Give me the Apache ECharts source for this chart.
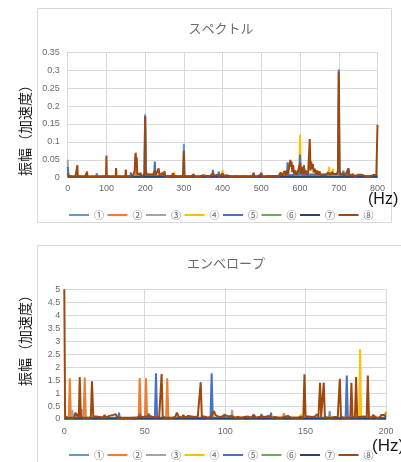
<!DOCTYPE html>
<html>
<head>
<meta charset="utf-8">
<script src="https://cdn.jsdelivr.net/npm/echarts@6/dist/echarts.min.js"></script>
<style>
html,body{margin:0;padding:0;background:#fff;}
#c{width:401px;height:462px;}
</style>
</head>
<body>
<div id="c"></div>
<script>
// ---- Data ----
const seriesNames = ['①','②','③','④','⑤','⑥','⑦','⑧'];
const seriesColors = ['#5B9BD5','#ED7D31','#A5A5A5','#FFC000','#4472C4','#70AD47','#264478','#9E480E'];

const specTitle = 'スペクトル';
const envTitle = 'エンベロープ';
const yName = '振幅（加速度）';
const xUnit = '(Hz)';

const specXTicks = [0,100,200,300,400,500,600,700,800];
const specYTicks = [0,0.05,0.1,0.15,0.2,0.25,0.3,0.35];
const envXTicks = [0,50,100,150,200];
const envYTicks = [0,0.5,1,1.5,2,2.5,3,3.5,4,4.5,5];

// Spectrum series [Hz, amplitude]
const specS1 = [[0,0.02],[2,0.003],[198,0.004],[200,0.177],[202,0.004],[298,0.004],[300,0.095],[302,0.004],[800,0.004]];
const specS2 = [[0,0.01],[3,0.003],[175,0.004],[176,0.07],[177,0.004],[800,0.004]];
const specS3 = [[0,0.05],[2,0.003],[800,0.003]];
const specS4 = [[0,0.004],[273,0.004],[275,0.016],[277,0.004],[398,0.004],[400,0.022],[402,0.004],[557,0.004],[560,0.02],[563,0.004],[598,0.01],[600,0.12],[602,0.01],[673,0.006],[675,0.03],[677,0.006],[683,0.006],[685,0.025],[687,0.006],[800,0.004]];
const specS5 = [[0,0.03],[2,0.003],[74,0.003],[75,0.012],[76,0.003],[162,0.003],[163,0.015],[164,0.003],[187,0.003],[188,0.015],[189,0.003],[198,0.004],[200,0.172],[202,0.004],[223,0.004],[225,0.045],[227,0.004],[373,0.004],[375,0.022],[377,0.004],[388,0.004],[390,0.017],[392,0.004],[478,0.003],[480,0.015],[482,0.003],[498,0.003],[500,0.015],[502,0.003],[566,0.006],[568,0.043],[570,0.006],[598,0.01],[600,0.065],[602,0.01],[608,0.008],[610,0.035],[612,0.008],[698,0.01],[700,0.302],[702,0.01],[710,0.004],[712,0.02],[714,0.004],[723,0.004],[725,0.027],[727,0.004],[800,0.004]];
const specS6 = [[0,0.003],[800,0.003]];
const specS7 = [[0,0.003],[800,0.003]];
const specS8 = [[0,0.012],[2,0.006],[5,0.004],[10,0.003],[15,0.003],[20,0.003],[24,0.004],[25,0.035],[26,0.004],[30,0.003],[38,0.003],[45,0.003],[49,0.003],[50,0.017],[51,0.003],[60,0.002],[70,0.003],[75,0.006],[76,0.002],[85,0.003],[88,0.006],[90,0.002],[99,0.004],[100,0.062],[101,0.004],[110,0.003],[112,0.005],[115,0.002],[124,0.003],[125,0.027],[126,0.003],[135,0.003],[140,0.004],[149,0.003],[150,0.023],[151,0.004],[158,0.003],[163,0.008],[165,0.004],[170,0.01],[173,0.02],[175,0.068],[177,0.03],[178,0.058],[180,0.01],[185,0.006],[188,0.01],[190,0.004],[195,0.006],[199,0.01],[200,0.17],[201,0.02],[203,0.025],[205,0.008],[210,0.006],[213,0.01],[216,0.005],[220,0.008],[225,0.02],[228,0.008],[232,0.006],[235,0.026],[237,0.006],[242,0.008],[245,0.014],[248,0.006],[250,0.018],[252,0.005],[258,0.004],[262,0.006],[268,0.004],[272,0.012],[275,0.004],[282,0.003],[290,0.003],[298,0.005],[300,0.075],[301,0.005],[310,0.003],[318,0.003],[325,0.01],[327,0.003],[335,0.002],[342,0.003],[350,0.007],[352,0.003],[360,0.004],[368,0.005],[375,0.012],[378,0.005],[385,0.008],[390,0.01],[393,0.004],[400,0.012],[403,0.005],[410,0.007],[415,0.003],[425,0.003],[435,0.004],[445,0.003],[455,0.004],[460,0.008],[465,0.003],[475,0.004],[480,0.01],[483,0.003],[490,0.003],[500,0.01],[503,0.003],[512,0.003],[520,0.005],[527,0.003],[535,0.005],[540,0.008],[545,0.005],[550,0.015],[553,0.006],[557,0.012],[560,0.018],[563,0.008],[566,0.02],[569,0.01],[572,0.03],[575,0.05],[577,0.03],[578,0.045],[580,0.015],[582,0.035],[585,0.01],[588,0.02],[591,0.008],[594,0.015],[597,0.01],[600,0.04],[602,0.012],[605,0.03],[607,0.01],[610,0.03],[612,0.012],[615,0.02],[618,0.008],[621,0.015],[623,0.01],[625,0.108],[627,0.02],[629,0.045],[631,0.025],[633,0.038],[635,0.015],[638,0.025],[641,0.01],[644,0.02],[647,0.008],[650,0.018],[653,0.008],[657,0.012],[660,0.006],[664,0.01],[668,0.008],[672,0.015],[675,0.02],[678,0.008],[682,0.015],[685,0.02],[688,0.01],[692,0.015],[695,0.01],[698,0.02],[700,0.295],[702,0.02],[705,0.01],[708,0.006],[712,0.012],[715,0.004],[720,0.006],[725,0.025],[728,0.005],[733,0.006],[737,0.01],[740,0.004],[745,0.005],[750,0.008],[753,0.003],[760,0.008],[763,0.003],[770,0.004],[775,0.005],[780,0.003],[785,0.004],[790,0.008],[793,0.004],[797,0.006],[799,0.01],[800,0.148]];

// Envelope series [Hz, amplitude]
const envS1 = [[0,0.03],[164.5,0.03],[165,0.3],[165.5,0.03],[200,0.03]];
const envS2 = [[0,0.05],[2.8,0.05],[3.4,1.57],[4.1,0.05],[12,0.05],[12.7,1.6],[13.4,0.05],[46.2,0.05],[46.9,1.58],[47.6,0.05],[50.1,0.05],[50.8,1.57],[51.5,0.05],[63.3,0.05],[64,1.57],[64.7,0.05],[136,0.05],[136.5,0.22],[137,0.05],[199,0.05],[200,0.28]];
const envS3 = [[0,0.05],[4.5,0.05],[5,0.35],[5.5,0.05],[10.5,0.05],[11,0.38],[11.5,0.05],[103.8,0.05],[104.3,0.35],[104.8,0.05],[200,0.05]];
const envS4 = [[0,0.03],[146,0.03],[147,0.18],[148,0.03],[183.3,0.03],[183.9,2.7],[184.5,0.03],[200,0.03]];
const envS5 = [[0,0.03],[33.5,0.03],[34,0.25],[34.5,0.03],[46.5,0.03],[47,0.22],[47.5,0.03],[52,0.03],[52.5,0.22],[53,0.03],[56.3,0.03],[57,1.76],[57.7,0.03],[90.9,0.03],[91.6,1.76],[92.3,0.03],[99,0.03],[99.5,0.2],[100,0.03],[117,0.03],[117.5,0.18],[118,0.03],[122,0.03],[122.5,0.2],[123,0.03],[128,0.03],[128.5,0.25],[129,0.03],[174.9,0.03],[175.6,1.68],[176.3,0.03],[200,0.03]];
const envS6 = [[0,0.02],[200,0.02]];
const envS7 = [[0,0.02],[200,0.02]];
const envS8 = [[0,5.0],[0.5,0.1],[1,0.05],[1.5,0.15],[2,0.05],[3,0.1],[4,0.05],[5,0.1],[6,0.05],[7,0.25],[7.5,0.1],[8,0.2],[9,0.05],[9.6,1.62],[10.3,0.08],[11,0.1],[12,0.05],[13,0.1],[14,0.05],[15,0.08],[16.5,0.05],[17.2,1.45],[18,0.1],[19,0.15],[20,0.1],[21,0.15],[22,0.08],[23,0.12],[24,0.05],[25,0.15],[26,0.05],[27,0.1],[28,0.12],[29,0.08],[30,0.15],[31,0.1],[32,0.18],[33,0.05],[34,0.08],[35,0.05],[36,0.05],[37,0.03],[38,0.05],[39,0.04],[40,0.06],[41,0.04],[42,0.03],[43,0.05],[44,0.08],[45,0.05],[46,0.06],[47,0.1],[48,0.05],[49,0.08],[50,0.05],[51,0.1],[52,0.08],[53,0.12],[54,0.05],[55,0.08],[56,0.04],[57,0.06],[58,0.05],[59,0.08],[59.8,0.05],[60.5,1.73],[61.2,0.08],[62,0.1],[63,0.05],[64,0.08],[65,0.05],[66,0.06],[67,0.04],[68,0.05],[69,0.08],[70,0.25],[71,0.1],[72,0.12],[73,0.05],[74,0.15],[75,0.05],[76,0.1],[77,0.12],[78,0.08],[79,0.1],[80,0.05],[81,0.08],[82,0.05],[83,0.1],[84.1,0.08],[84.8,1.42],[85.5,0.08],[86,0.15],[87,0.1],[88,0.12],[89,0.05],[90,0.1],[91,0.08],[92,0.05],[93,0.3],[94,0.15],[95,0.2],[96,0.08],[97,0.12],[98,0.1],[99,0.05],[100,0.15],[101,0.08],[102,0.1],[103,0.05],[104,0.12],[105,0.15],[106,0.05],[107,0.1],[108,0.08],[109,0.12],[110,0.05],[111,0.1],[112,0.08],[113,0.05],[114,0.1],[115,0.08],[116,0.05],[117,0.12],[118,0.15],[119,0.05],[120,0.1],[121,0.08],[122,0.05],[123,0.1],[124,0.15],[125,0.08],[126,0.05],[127,0.12],[128,0.15],[129,0.05],[130,0.1],[131,0.08],[132,0.12],[133,0.05],[134,0.08],[135,0.05],[136,0.1],[137,0.08],[138,0.05],[139,0.12],[140,0.08],[141,0.05],[142,0.1],[143,0.05],[144,0.08],[145,0.05],[146,0.1],[147,0.08],[148,0.1],[148.6,0.05],[149.3,1.72],[150,0.1],[151,0.05],[152,0.1],[153,0.05],[154,0.08],[155,0.05],[156,0.1],[157,0.18],[158,0.08],[158.4,0.05],[159,1.4],[159.7,0.08],[160.6,0.05],[161.3,1.4],[162,0.08],[163,0.1],[164,0.05],[165,0.1],[166,0.05],[167,0.12],[168,0.08],[169,0.05],[170,0.08],[170.6,0.05],[171.3,1.55],[172,0.08],[173,0.1],[174,0.05],[175,0.08],[176,0.05],[177,0.1],[177.8,0.05],[178.5,1.4],[179.2,0.08],[180,0.05],[180.7,0.05],[181.4,1.62],[182.1,0.08],[183,0.05],[184,0.08],[185,0.05],[186,0.1],[187,0.05],[188,0.08],[188.7,1.68],[189.4,0.08],[190,0.1],[191,0.05],[192,0.15],[193,0.08],[194,0.05],[195,0.1],[196,0.05],[197,0.15],[198,0.1],[199,0.15],[200,0.08]];

const specData = [specS1,specS2,specS3,specS4,specS5,specS6,specS7,specS8];
const envData = [envS1,envS2,envS3,envS4,envS5,envS6,envS7,envS8];

// ---- Chart ----
const chart = echarts.init(document.getElementById('c'), null, {renderer:'canvas'});
const labelFont = 'Liberation Sans, Arial, sans-serif';
const jpFont = '"Noto Sans CJK JP", sans-serif';
const gridColor = '#D9D9D9';
const labelColor = '#6B6B6B';

function xAx(gi, ticks){
  return {type:'value', gridIndex:gi, min:ticks[0], max:ticks[ticks.length-1], interval:ticks[1]-ticks[0],
    axisLine:{show:true, lineStyle:{color:gridColor}}, axisTick:{show:false},
    axisLabel:{color:labelColor, fontSize:9, fontFamily:labelFont, margin: gi===0?6:8},
    splitLine:{show:true, lineStyle:{color:gridColor, width:1}}};
}
function yAx(gi, ticks){
  return {type:'value', gridIndex:gi, min:ticks[0], max:ticks[ticks.length-1], interval:ticks[1]-ticks[0],
    axisLine:{show:false}, axisTick:{show:false},
    axisLabel:{color:labelColor, fontSize:9, fontFamily:labelFont, margin: gi===0?8:4},
    splitLine:{show:true, lineStyle:{color:gridColor, width:1}}};
}

const series = [];
specData.forEach((d,i)=>series.push({name:seriesNames[i], type:'line', xAxisIndex:0, yAxisIndex:0, data:d,
  showSymbol:false, symbol:'none', color:seriesColors[i], lineStyle:{width:2, color:seriesColors[i]}, silent:true, z:2+i}));
envData.forEach((d,i)=>series.push({name:seriesNames[i], type:'line', xAxisIndex:1, yAxisIndex:1, data:d,
  showSymbol:false, symbol:'none', color:seriesColors[i], lineStyle:{width:2, color:seriesColors[i]}, silent:true, z:2+i}));

function legend(top){
  return {data:seriesNames, left:64, top:top, icon:'rect', itemWidth:20, itemHeight:2, itemGap:3.5,
    textStyle:{color:'#595959', fontSize:10, fontFamily:jpFont, width:10}, selectedMode:false};
}

const option = {
  animation:false,
  backgroundColor:'#fff',
  color:seriesColors,
  title:[
    {text:specTitle, left:216, top:17, textAlign:'center', textStyle:{fontSize:13, fontWeight:'normal', color:'#6B6B6B', fontFamily:jpFont}},
    {text:envTitle, left:221, top:252, textAlign:'center', textStyle:{fontSize:13, fontWeight:'normal', color:'#6B6B6B', fontFamily:jpFont}}
  ],
  grid:[
    {left:67.7, right:23.5, top:52.4, height:125.3},
    {left:64.3, right:15, top:289.3, height:129.7}
  ],
  xAxis:[xAx(0,specXTicks), xAx(1,envXTicks)],
  yAxis:[yAx(0,specYTicks), yAx(1,envYTicks)],
  legend:[legend(205), legend(445)],
  graphic:[
    {type:'rect', z:-10, shape:{x:37.5, y:8.5, width:354, height:214}, style:{fill:'none', stroke:'#D9D9D9', lineWidth:1}},
    {type:'rect', z:-10, shape:{x:37.5, y:245.5, width:380, height:230}, style:{fill:'none', stroke:'#D9D9D9', lineWidth:1}},
    {type:'text', x:25, y:127, rotation:Math.PI/2, style:{text:yName, fontSize:14, fontFamily:jpFont, fill:'#1a1a1a', textAlign:'center', textVerticalAlign:'middle'}},
    {type:'text', x:25, y:337, rotation:Math.PI/2, style:{text:yName, fontSize:14, fontFamily:jpFont, fill:'#1a1a1a', textAlign:'center', textVerticalAlign:'middle'}},
    {type:'text', x:368, y:199.5, style:{text:xUnit, fontSize:16, fontFamily:labelFont, fill:'#1a1a1a', textAlign:'left', textVerticalAlign:'middle'}},
    {type:'text', x:372, y:446, style:{text:xUnit, fontSize:17, fontFamily:labelFont, fill:'#1a1a1a', textAlign:'left', textVerticalAlign:'middle'}}
  ],
  series:series
};
chart.setOption(option);
</script>
</body>
</html>
